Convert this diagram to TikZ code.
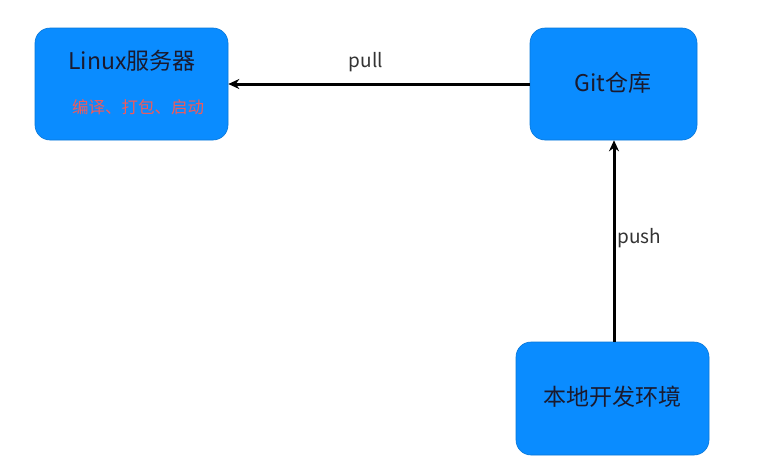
\documentclass[tikz,border=0pt]{standalone}
\usepackage{fontspec}
\setmainfont{Noto Sans CJK SC}
\usetikzlibrary{arrows.meta}
\definecolor{boxblue}{HTML}{0A8CFF}
\definecolor{txtred}{HTML}{F25A5A}
\definecolor{txtdark}{HTML}{1A1A2E}
\begin{document}
\begin{tikzpicture}[x=1pt,y=-1pt,
  boxst/.style={fill=boxblue,draw=boxblue!85!black,line width=0.6pt,rounded corners=15pt},
  conn/.style={line width=3pt,-{Stealth[length=11pt,width=10pt]}},
  lbl/.style={font=\fontsize{19}{22}\selectfont,text=black!80}]
\useasboundingbox (0,0) rectangle (757,474);
\fill[white] (0,0) rectangle (757,474);
\node[boxst,minimum width=193pt,minimum height=112pt] (linux) at (131.5,84) {};
\node[boxst,minimum width=167pt,minimum height=112pt] (git) at (613.5,84) {};
\node[boxst,minimum width=193pt,minimum height=113pt] (local) at (612.5,398.5) {};
\node[font=\fontsize{23}{26}\selectfont,text=txtdark] (linuxt) at (132,61) {Linux服务器};
\node[font=\fontsize{16.5}{19}\selectfont,text=txtred] (linuxs) at (138,107) {编译、打包、启动};
\node[font=\fontsize{23}{26}\selectfont,text=txtdark] (gitt) at (613,83) {Git仓库};
\node[font=\fontsize{23}{26}\selectfont,text=txtdark] (localt) at (612,397) {本地开发环境};
\draw[conn] (git.west) -- (linux.east);
\node[lbl] (pull) at (366,62) {pull};
\draw[conn] (local.north) ++(1.5,0) coordinate (pstart) -- (pstart |- git.south);
\node[lbl,anchor=west] (push) at (614,238) {push};
\end{tikzpicture}
\end{document}
